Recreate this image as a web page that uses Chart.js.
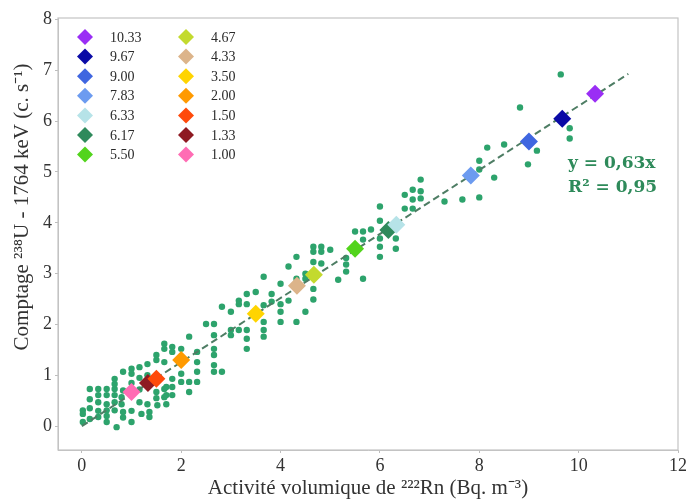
<!DOCTYPE html>
<html>
<head>
<meta charset="utf-8">
<script src="https://cdn.jsdelivr.net/npm/chart.js@4/dist/chart.umd.min.js"></script>
<style>
  html, body { margin: 0; padding: 0; background: #ffffff; }
  #wrap { width: 689px; height: 501px; }
</style>
</head>
<body>
<div id="wrap"><canvas id="c" width="689" height="501"></canvas></div>
<script>
// ---- Data ----
const xTicks = [0, 2, 4, 6, 8, 10, 12];
const yTicks = [0, 1, 2, 3, 4, 5, 6, 7, 8];

const scatterX = [0.02,0.02,0.02,0.16,0.16,0.16,0.33,0.33,0.33,0.33,0.5,0.5,0.5,0.5,0.5,0.66,0.66,0.66,0.66,0.66,0.66,0.7,0.8,0.8,0.83,0.83,1.0,1.0,1.0,1.16,1.16,1.2,1.32,1.32,1.36,1.36,1.5,1.5,1.5,1.52,1.66,1.66,1.66,1.66,1.66,1.7,1.7,1.7,1.82,1.82,1.82,1.82,1.82,2.0,2.0,2.0,2.16,2.16,2.16,2.32,2.32,2.32,2.32,2.5,2.66,2.66,2.66,2.66,2.66,2.66,2.82,2.82,3.0,3.0,3.0,3.16,3.16,3.16,3.32,3.32,3.32,3.32,3.32,3.5,3.66,3.66,3.66,3.66,3.66,3.82,3.82,4.0,4.0,4.0,4.0,4.16,4.16,4.32,4.32,4.32,4.5,4.5,4.5,4.66,4.66,4.66,4.66,4.66,4.82,4.82,4.82,5.0,5.16,5.32,5.32,5.32,5.5,5.66,5.66,5.66,5.82,6.0,6.0,6.0,6.0,6.0,6.32,6.32,6.5,6.5,6.66,6.66,6.66,6.82,6.82,6.82,7.3,7.66,8.0,8.0,8.0,8.16,8.3,8.5,8.82,8.98,9.16,9.64,9.82,9.82,0.16,0.33,0.5,0.83,1.0,1.16,1.32,1.16,1.5,0.83,1.0];
const scatterY = [0.31,0.24,0.08,0.14,0.53,0.73,0.18,0.47,0.61,0.73,0.08,0.31,0.43,0.61,0.73,0.31,0.47,0.61,0.73,0.83,0.93,-0.02,0.57,0.43,0.28,1.07,1.13,1.03,0.08,1.16,0.47,0.24,1.22,0.43,0.28,0.18,1.3,1.4,0.67,0.41,1.62,1.52,1.26,0.73,0.57,0.77,0.61,0.43,1.56,1.46,0.93,0.77,0.61,1.52,1.03,0.87,1.76,0.87,0.67,1.46,1.26,1.07,0.87,2.01,2.01,1.79,1.52,1.4,1.2,1.07,2.35,1.07,2.25,1.79,1.89,2.47,2.4,1.89,2.6,2.4,1.89,1.72,1.52,2.64,2.94,2.38,2.05,1.89,1.76,2.6,2.45,2.8,2.4,2.25,2.05,3.14,2.47,3.33,2.9,2.05,3.0,2.9,2.25,3.53,3.43,3.23,2.7,2.49,3.53,3.43,3.2,3.47,2.88,3.31,3.18,3.04,3.83,3.83,3.67,2.9,3.87,4.32,4.04,3.69,3.53,3.33,3.69,3.49,4.55,4.28,4.46,4.28,4.65,4.85,4.62,4.48,4.42,4.46,4.5,5.05,5.22,5.48,4.89,5.54,6.27,5.15,5.42,6.92,5.86,5.66,0.35,0.3,0.2,0.7,0.85,0.95,1.0,0.72,0.55,0.17,0.3];

const meanLabels = ['10.33','9.67','9.00','7.83','6.33','6.17','5.50','4.67','4.33','3.50','2.00','1.50','1.33','1.00'];
const meanX = [10.33, 9.67, 9.00, 7.83, 6.33, 6.17, 5.50, 4.67, 4.33, 3.50, 2.00, 1.50, 1.33, 1.00];
const meanY = [6.54, 6.05, 5.60, 4.93, 3.96, 3.86, 3.49, 2.98, 2.76, 2.21, 1.30, 0.93, 0.85, 0.67];
const meanColors = ['#9a2ef5','#0a0aa6','#3f66e0','#6c9bf0','#b6e3e8','#2f8a5c','#52d41c','#c3da2e','#dcb48a','#ffd400','#ff9a00','#ff4a0a','#8e1a22','#ff6cb4'];

const fitSlope = 0.63;
const fitX = [0, 11];
const eqLines = ['y = 0,63x', 'R\u00B2 = 0,95'];

const xTitle = 'Activit\u00E9 volumique de \u00B2\u00B2\u00B2Rn (Bq. m\u207B\u00B3)';
const yTitle = 'Comptage \u00B2\u00B3\u2078U - 1764 keV (c. s\u207B\u00B9)';

// ---- Datasets ----
const datasets = [];
datasets.push({
  type: 'scatter',
  label: 'mesures',
  data: scatterX.map((x, i) => ({ x: x, y: scatterY[i] })),
  pointStyle: 'circle',
  pointRadius: 3.2,
  backgroundColor: '#2da36c',
  borderColor: '#2da36c',
  borderWidth: 0,
  order: 3,
  isLegend: false
});
datasets.push({
  type: 'line',
  label: 'ajustement',
  data: fitX.map(x => ({ x: x, y: fitSlope * x })),
  borderColor: '#4e7d64',
  borderWidth: 2,
  borderDash: [7, 4],
  pointRadius: 0,
  fill: false,
  order: 2,
  isLegend: false
});
meanLabels.forEach((lab, i) => {
  datasets.push({
    type: 'scatter',
    label: lab,
    data: [{ x: meanX[i], y: meanY[i] }],
    pointStyle: 'rectRot',
    pointRadius: 9,
    backgroundColor: meanColors[i],
    borderColor: meanColors[i],
    borderWidth: 0,
    order: 1,
    isLegend: true
  });
});

// ---- Plugins ----
const frame = {
  id: 'frame',
  afterDraw(chart) {
    const a = chart.chartArea, ctx = chart.ctx;
    ctx.save();
    ctx.strokeStyle = '#c4c4c4';
    ctx.lineWidth = 1.2;
    ctx.strokeRect(a.left, a.top, a.right - a.left, a.bottom - a.top);
    ctx.restore();
  }
};

const customLegend = {
  id: 'customLegend',
  afterDatasetsDraw(chart) {
    const ctx = chart.ctx, a = chart.chartArea;
    const items = chart.data.datasets.filter(d => d.isLegend);
    ctx.save();
    ctx.font = '14px "Liberation Serif", serif';
    ctx.textBaseline = 'middle';
    items.forEach((d, i) => {
      const col = Math.floor(i / 7), row = i % 7;
      const cx = a.left + 27 + col * 101;
      const cy = a.top + 19 + row * 19.6;
      const r = 8;
      ctx.fillStyle = d.backgroundColor;
      ctx.beginPath();
      ctx.moveTo(cx, cy - r);
      ctx.lineTo(cx + r, cy);
      ctx.lineTo(cx, cy + r);
      ctx.lineTo(cx - r, cy);
      ctx.closePath();
      ctx.fill();
      ctx.fillStyle = '#2a2a2a';
      ctx.fillText(d.label, cx + 25, cy + 1);
    });
    ctx.restore();
  }
};

const equation = {
  id: 'equation',
  afterDatasetsDraw(chart) {
    const ctx = chart.ctx, a = chart.chartArea;
    ctx.save();
    ctx.font = 'bold 17px "DejaVu Serif", serif';
    ctx.fillStyle = '#2e8a5a';
    ctx.textBaseline = 'alphabetic';
    ctx.textAlign = 'left';
    eqLines.forEach((t, i) => {
      ctx.fillText(t, a.left + 510, a.top + 150 + i * 24);
    });
    ctx.restore();
  }
};

const yTitlePlugin = {
  id: 'yTitlePlugin',
  afterDraw(chart) {
    const ctx = chart.ctx;
    ctx.save();
    ctx.translate(22, 207);
    ctx.rotate(-Math.PI / 2);
    ctx.font = '21px "Liberation Serif", serif';
    ctx.fillStyle = '#333';
    ctx.textAlign = 'center';
    ctx.textBaseline = 'middle';
    ctx.fillText(yTitle, 0, 0);
    ctx.restore();
  }
};

const tickFont = { family: '"Liberation Serif", serif', size: 18 };
const titleFont = { family: '"Liberation Serif", serif', size: 21 };

new Chart(document.getElementById('c'), {
  data: { datasets: datasets },
  options: {
    responsive: false,
    animation: false,
    layout: { padding: { top: 18, right: 6, left: 0, bottom: 0 } },
    plugins: {
      legend: { display: false },
      tooltip: { enabled: false },
      title: { display: false }
    },
    scales: {
      x: {
        type: 'linear',
        min: -0.48,
        max: 12,
        afterBuildTicks(scale) { scale.ticks = xTicks.map(v => ({ value: v })); },
        afterFit(scale) { scale.height = 51; },
        ticks: { font: tickFont, color: '#333', padding: 2, maxRotation: 0 },
        grid: { display: true, drawOnChartArea: false, drawTicks: true, tickLength: 3, color: '#bdbdbd' },
        border: { display: true, color: '#c4c4c4' },
        title: { display: true, text: xTitle, font: titleFont, color: '#333', padding: { top: 1, bottom: 0 } }
      },
      y: {
        type: 'linear',
        min: -0.47,
        max: 8.03,
        afterBuildTicks(scale) { scale.ticks = yTicks.map(v => ({ value: v })); },
        afterFit(scale) { scale.width = 58; },
        ticks: { font: tickFont, color: '#333', padding: 3 },
        grid: { display: true, drawOnChartArea: false, drawTicks: true, tickLength: 3, color: '#bdbdbd' },
        border: { display: true, color: '#c4c4c4' },
        title: { display: false }
      }
    }
  },
  plugins: [frame, customLegend, equation, yTitlePlugin]
});
</script>
</body>
</html>
